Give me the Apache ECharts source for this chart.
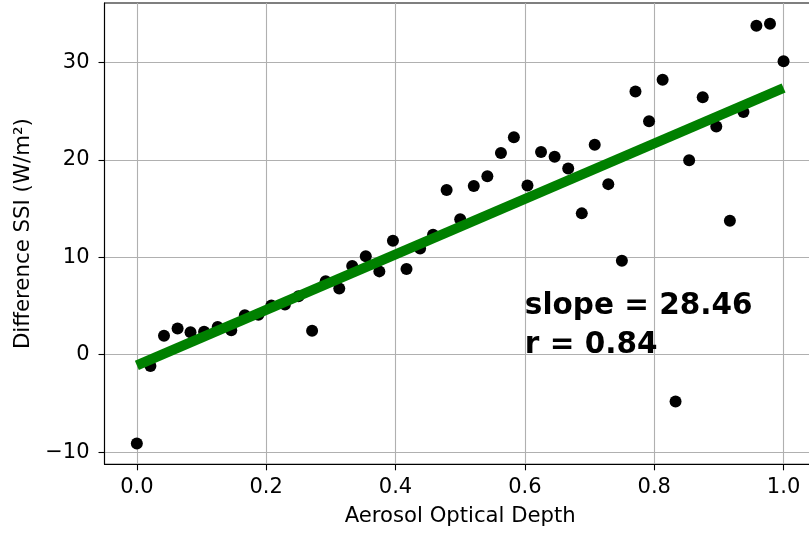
<!DOCTYPE html>
<html>
<head>
<meta charset="utf-8">
<script src="https://cdn.jsdelivr.net/npm/echarts@6/dist/echarts.min.js"></script>
<style>
html,body{margin:0;padding:0;background:#fff;overflow:hidden;width:809px;height:535px;}
#chart{width:830px;height:535px;}
</style>
</head>
<body>
<div id="chart"></div>
<script>
// Aerosol optical depth (x) for each point
var aodValues = [0.000,0.021,0.042,0.063,0.083,0.104,0.125,0.146,0.167,0.188,
                 0.208,0.229,0.250,0.271,0.292,0.313,0.333,0.354,0.375,0.396,
                 0.417,0.438,0.458,0.479,0.500,0.521,0.542,0.563,0.583,0.604,
                 0.625,0.646,0.667,0.688,0.708,0.729,0.750,0.771,0.792,0.813,
                 0.833,0.854,0.875,0.896,0.917,0.938,0.958,0.979,1.000];
// Difference SSI (W/m2) for each point
var ssiDiff = [-9.1,-1.15,1.95,2.7,2.3,2.35,2.85,2.5,4.05,4.1,
               5.05,5.15,6.0,2.45,7.55,6.8,9.1,10.1,8.55,11.7,
               8.8,10.9,12.3,16.9,13.9,17.3,18.3,20.7,22.3,17.35,
               20.8,20.3,19.1,14.5,21.55,17.5,9.65,27.0,23.95,28.2,
               -4.8,19.95,26.4,23.4,13.75,24.9,33.75,33.95,30.1];
// Regression line end points (x, y)
var fitLine = [[0.0, -1.1], [1.0, 27.36]];
var xTicks = [0.0, 0.2, 0.4, 0.6, 0.8, 1.0];
var yTicks = [-10, 0, 10, 20, 30];
var statsText = ['slope = 28.46', 'r = 0.84'];
var textAnchor = [0.6, 0];

var points = aodValues.map(function (x, i) { return [x, ssiDiff[i]]; });

var chart = echarts.init(document.getElementById('chart'), null, {renderer: 'canvas'});
var font = 'DejaVu Sans';
var option = {
  animation: false,
  backgroundColor: '#ffffff',
  grid: {left: 104.5, top: 3, width: 711.4, height: 461.3, show: true,
         borderColor: '#000', borderWidth: 1.1, backgroundColor: 'transparent'},
  xAxis: {
    type: 'value', min: -0.05, max: 1.05,
    name: 'Aerosol Optical Depth', nameLocation: 'middle', nameGap: 42,
    nameTextStyle: {fontFamily: font, fontSize: 21.2, color: '#000'},
    axisLine: {show: true, onZero: false, lineStyle: {color: '#000', width: 1.1}},
    axisTick: {show: true, inside: false, length: 6, lineStyle: {color: '#000', width: 1.1},
               customValues: xTicks},
    axisLabel: {fontFamily: font, fontSize: 21, color: '#000', margin: 13,
                customValues: xTicks,
                formatter: function (v) { return v.toFixed(1); }},
    splitLine: {show: true, lineStyle: {color: '#b0b0b0', width: 1.1}}
  },
  yAxis: {
    type: 'value', min: -11.24, max: 36.08,
    name: 'Difference SSI (W/m²)', nameLocation: 'middle', nameGap: 70,
    nameTextStyle: {fontFamily: font, fontSize: 21.3, color: '#000'},
    axisLine: {show: true, onZero: false, lineStyle: {color: '#000', width: 1.1}},
    axisTick: {show: true, inside: false, length: 6, lineStyle: {color: '#000', width: 1.1},
               customValues: yTicks},
    axisLabel: {fontFamily: font, fontSize: 21, color: '#000', margin: 15,
                customValues: yTicks,
                formatter: function (v) { return v < 0 ? '\u2212' + Math.abs(v) : String(v); }},
    splitLine: {show: true, lineStyle: {color: '#b0b0b0', width: 1.1}}
  },
  series: [
    {type: 'scatter', data: points, symbol: 'circle', symbolSize: 12,
     itemStyle: {color: '#000', opacity: 1}, z: 3},
    {type: 'line', data: fitLine, symbol: 'none', z: 4,
     lineStyle: {color: '#008000', width: 10, cap: 'butt'}}
  ]
};
chart.setOption(option);
var p = chart.convertToPixel({gridIndex: 0}, textAnchor);
chart.setOption({
  graphic: [
    {type: 'text', x: p[0], y: p[1] - 48, z: 10,
     style: {text: statsText[0], fontFamily: font, fontWeight: 'bold', fontSize: 29.5,
             fill: '#000', align: 'left', verticalAlign: 'middle'}},
    {type: 'text', x: p[0], y: p[1] - 9, z: 10,
     style: {text: statsText[1], fontFamily: font, fontWeight: 'bold', fontSize: 29.5,
             fill: '#000', align: 'left', verticalAlign: 'middle'}}
  ]
});
</script>
</body>
</html>
